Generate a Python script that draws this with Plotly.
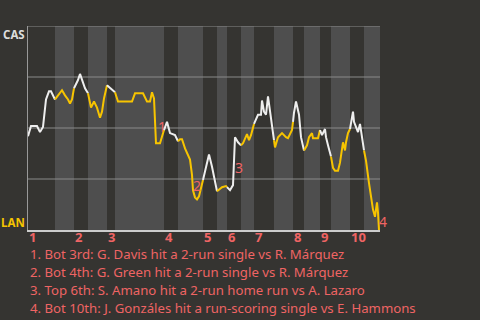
import plotly.graph_objects as go

# event index along the game, CAS win probability (%)
play = [0, 3, 9, 12, 15, 18, 21, 23, 27,
        31, 34, 37, 40, 42, 44, 46,
        50, 52, 54, 57, 60,
        63, 66, 69, 72, 74, 76, 79,
        83, 87,
        90, 104, 107, 115, 119, 122, 124, 126, 128, 132, 135, 136,
        139, 142, 147, 150,
        152, 154, 157, 162, 164, 165, 167, 169, 171, 175,
        181, 184, 189,
        194, 198, 199,
        202, 205, 206, 207, 210, 213,
        215, 219, 221, 223, 226,
        227, 230, 233, 234, 236, 238, 240, 242, 244, 246,
        247, 250, 254, 258, 260, 264, 265,
        266, 268, 271, 273, 276,
        279, 281, 284, 285, 290, 292,
        294, 297, 298, 300, 303,
        305, 307, 310, 312, 314, 315, 317, 318, 320, 322,
        324, 325, 326, 328, 330, 332, 333, 335, 336,
        338, 341, 344, 345, 347, 349, 350, 351]
cas_wp = [46, 51, 51, 48, 50.5, 64, 68, 68, 64,
          66.5, 68.5, 66, 64, 62, 64, 69.5,
          73.5, 76.5, 74, 69.5, 67,
          60, 63, 60, 55, 58, 64.5, 71,
          69, 67.5,
          63, 63, 67, 67, 63, 63, 67.5, 64.5, 42.5, 42.5, 47.5, 49,
          53, 47.5, 46.5, 43.5,
          44.5, 44.5, 40, 34.5, 27, 19.5, 16, 15, 16.5, 24.5,
          37, 31, 19,
          21, 21.5, 21,
          19.5, 22, 31, 45.5, 43, 41.5,
          42.5, 47, 44, 46.5, 52,
          53, 56.5, 56.5, 63.5, 58, 56.5, 65.5, 57.5, 50.5, 44,
          40.5, 45.5, 47.5, 45.5, 45, 49, 53,
          57.5, 63, 56.5, 45.5, 39,
          41.5, 45.5, 47.5, 45, 45, 49,
          46.5, 49.5, 45.5, 41.5, 36,
          30.5, 29, 29, 33, 39, 43, 39, 43, 47.5, 49.5,
          55, 58, 53, 50.5, 48, 52, 49, 41.5, 39,
          34, 23, 14.5, 10, 6.5, 13.5, 8.5, 0]

# half-inning boundaries (event index)
half_bounds = [0, 27, 46, 60, 79, 87, 136, 150, 175, 189, 199, 213, 226,
               246, 265, 276, 292, 303, 322, 336, 352]
innings = ["1", "2", "3", "4", "5", "6", "7", "8", "9", "10"]

# key plays: label, event index, CAS win %
key_labels = ["1", "2", "3", "4"]
key_play = [134, 169, 211, 351]
key_wp = [50.5, 22, 30.4, 4.4]
key_text = [
    "1. Bot 3rd: G. Davis hit a 2-run single vs R. Márquez",
    "2. Bot 4th: G. Green hit a 2-run single vs R. Márquez",
    "3. Top 6th: S. Amano hit a 2-run home run vs A. Lazaro",
    "4. Bot 10th: J. Gonzáles hit a run-scoring single vs E. Hammons",
]
grid_levels = [25, 50, 75, 100]

BG = "#353431"
LIGHT = "#4e4e4e"
RED = "#ef6464"
YEL = "#f7c400"
WHT = "#eeeeee"
GRID = "#8a8a8a"
FONT = "Noto Sans"

fig = go.Figure()
shapes = []
for i in range(len(half_bounds) - 1):
    a, b = half_bounds[i], half_bounds[i + 1]
    if i % 2 == 1:
        shapes.append(dict(type="rect", xref="x", yref="paper", x0=a, x1=b,
                           y0=0, y1=1, fillcolor=LIGHT, line_width=0,
                           layer="below"))
    xs = [x for x in play if a <= x <= b]
    ys = [y for x, y in zip(play, cas_wp) if a <= x <= b]
    fig.add_trace(go.Scatter(x=xs, y=ys, mode="lines",
                             line=dict(color=WHT if i % 2 == 0 else YEL, width=2),
                             hoverinfo="skip", showlegend=False))
for g in grid_levels:
    shapes.append(dict(type="line", xref="paper", yref="y", x0=0, x1=1,
                       y0=g, y1=g, line=dict(color=GRID, width=1),
                       layer="between"))

ann = []
for k in range(len(innings)):
    ann.append(dict(x=half_bounds[2 * k], y=0, xref="x", yref="y",
                    text="<b>%s</b>" % innings[k], showarrow=False,
                    xanchor="left", yanchor="top", yshift=3, borderpad=0,
                    font=dict(color=RED, size=13, family=FONT)))
for lab, x, y in zip(key_labels, key_play, key_wp):
    ann.append(dict(x=x, y=y, xref="x", yref="y", text=lab, showarrow=False,
                    xanchor="center", yanchor="middle",
                    xshift=4 if lab == "4" else 0,
                    font=dict(color=RED, size=14, family=FONT)))
for j, t in enumerate(key_text):
    ann.append(dict(x=0, y=-(24 + 18 * j) / 204, xref="paper", yref="paper",
                    text=t, showarrow=False, xanchor="left", yanchor="middle",
                    borderpad=0, xshift=1,
                    font=dict(color=RED, size=13.2, family=FONT)))
ann.append(dict(x=0, y=100, xref="paper", yref="y", text="<b>CAS</b>",
                showarrow=False, xanchor="right", yanchor="top", xshift=-2,
                borderpad=0,
                font=dict(color="#dddddd", size=11.5, family=FONT)))
ann.append(dict(x=0, y=0, xref="paper", yref="y", text="<b>LAN</b>",
                showarrow=False, xanchor="right", yanchor="bottom", xshift=-2,
                yshift=-1, borderpad=0,
                font=dict(color=YEL, size=11.5, family=FONT)))

fig.update_layout(
    width=480, height=320,
    margin=dict(l=28, r=100, t=26, b=90),
    paper_bgcolor=BG, plot_bgcolor=BG,
    shapes=shapes, annotations=ann,
    xaxis=dict(range=[0, 352], showgrid=False, zeroline=False,
               showticklabels=False, showline=True, linecolor="#cccccc",
               linewidth=2),
    yaxis=dict(range=[0, 100], showgrid=False, zeroline=False,
               showticklabels=False, showline=True, linecolor="#999999",
               linewidth=1),
)
fig.write_html("out.html")
